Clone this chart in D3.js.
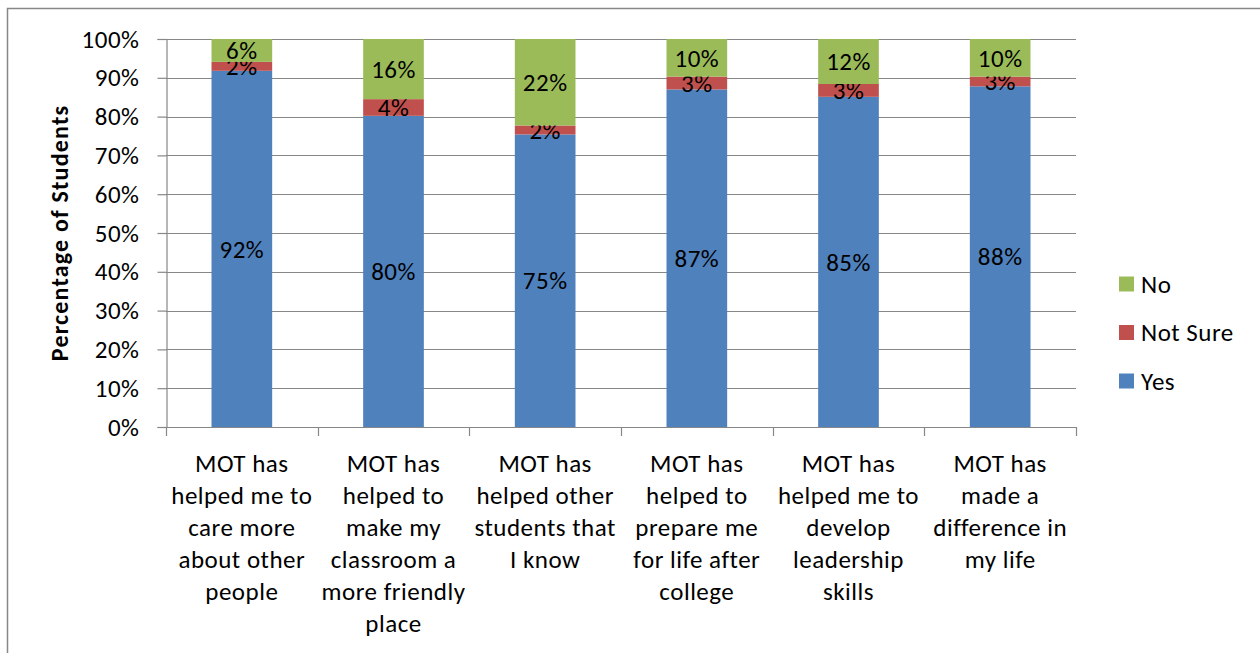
<!DOCTYPE html>
<html>
<head>
<meta charset="utf-8">
<script src="https://cdn.jsdelivr.net/npm/d3@7"></script>
<style>
  html, body { margin: 0; padding: 0; background: #fff; }
  svg { display: block; font-family: Carlito, Calibri, Lato, sans-serif; }
  .lbl { letter-spacing: 0.5px; }
</style>
</head>
<body>
<svg id="chart" width="1260" height="653"></svg>
<script>
// Survey statements (line breaks mark how each label wraps)
const categories = [
  "MOT has\nhelped me to\ncare more\nabout other\npeople",
  "MOT has\nhelped to\nmake my\nclassroom a\nmore friendly\nplace",
  "MOT has\nhelped other\nstudents that\nI know",
  "MOT has\nhelped to\nprepare me\nfor life after\ncollege",
  "MOT has\nhelped me to\ndevelop\nleadership\nskills",
  "MOT has\nmade a\ndifference in\nmy life"
];

// Share of students per answer, in percent
const yesValues     = [91.8, 80.2, 75.4, 87.0, 85.1, 87.8];
const notSureValues = [2.3, 4.3, 2.3, 3.3, 3.3, 2.5];
const noValues      = [5.9, 15.5, 22.3, 9.7, 11.6, 9.7];

const seriesNames = ["Yes", "Not Sure", "No"];
const seriesColors = ["#4F81BD", "#C0504D", "#9BBB59"];
const yTicks = [0, 10, 20, 30, 40, 50, 60, 70, 80, 90, 100];

const svg = d3.select("#chart");
const gridColor = "#878787";
const fontSize = 25;

// Outer frame
svg.append("path")
  .attr("d", "M7.5,653 L7.5,8.5 L1260,8.5")
  .attr("fill", "none")
  .attr("stroke", gridColor)
  .attr("stroke-width", 1.5);

const plot = { left: 166, right: 1076, top: 39, bottom: 427 };

const x = d3.scaleBand()
  .domain(d3.range(categories.length))
  .range([plot.left, plot.right])
  .paddingInner(0.6)
  .paddingOuter(0.3);

const y = d3.scaleLinear().domain([0, 100]).range([plot.bottom, plot.top]);

// Horizontal gridlines
svg.append("g")
  .selectAll("line")
  .data(yTicks.filter(t => t > 0))
  .join("line")
  .attr("x1", plot.left).attr("x2", plot.right)
  .attr("y1", d => Math.round(y(d)) + 0.5).attr("y2", d => Math.round(y(d)) + 0.5)
  .attr("stroke", gridColor).attr("stroke-width", 1.2);

// Y axis
const yAxis = svg.append("g")
  .attr("transform", `translate(${plot.left + 0.5},0)`)
  .call(d3.axisLeft(y).tickValues(yTicks).tickFormat(d => d + "%").tickSize(9).tickPadding(18));
yAxis.select(".domain").attr("stroke", gridColor).attr("stroke-width", 1.2);
yAxis.selectAll(".tick line").attr("stroke", gridColor).attr("stroke-width", 1.2);
yAxis.selectAll(".tick text")
  .attr("class", "lbl")
  .attr("font-size", fontSize).attr("fill", "#000")
  .attr("font-family", "Carlito, Calibri, Lato, sans-serif");

// Stacked bars
const rows = categories.map((c, i) => ({
  idx: i, "Yes": yesValues[i], "Not Sure": notSureValues[i], "No": noValues[i]
}));
const stacked = d3.stack().keys(seriesNames)(rows);

const layers = svg.append("g")
  .selectAll("g")
  .data(stacked)
  .join("g")
  .attr("fill", (d, i) => seriesColors[i]);

layers.selectAll("rect")
  .data(d => d)
  .join("rect")
  .attr("x", d => x(d.data.idx))
  .attr("width", x.bandwidth())
  .attr("y", d => y(d[1]))
  .attr("height", d => y(d[0]) - y(d[1]));

// Data labels centered in each segment
layers.selectAll("text")
  .data(d => d.map(v => ({ v, key: d.key })))
  .join("text")
  .attr("class", "lbl")
  .attr("x", d => x(d.v.data.idx) + x.bandwidth() / 2)
  .attr("y", d => y((d.v[0] + d.v[1]) / 2))
  .attr("dy", "0.35em")
  .attr("text-anchor", "middle")
  .attr("font-size", fontSize)
  .attr("fill", "#000")
  .text(d => Math.round(d.v.data[d.key]) + "%");

// X axis baseline and category ticks
const bounds = d3.range(categories.length + 1).map(i => plot.left + i * (plot.right - plot.left) / categories.length);
svg.append("line")
  .attr("x1", plot.left).attr("x2", plot.right)
  .attr("y1", plot.bottom + 0.5).attr("y2", plot.bottom + 0.5)
  .attr("stroke", gridColor).attr("stroke-width", 1.2);
svg.append("g")
  .selectAll("line")
  .data(bounds)
  .join("line")
  .attr("x1", d => Math.round(d) + 0.5).attr("x2", d => Math.round(d) + 0.5)
  .attr("y1", plot.bottom).attr("y2", plot.bottom + 9)
  .attr("stroke", gridColor).attr("stroke-width", 1.2);

// Category labels
const catText = svg.append("g")
  .selectAll("text")
  .data(categories)
  .join("text")
  .attr("class", "lbl")
  .attr("text-anchor", "middle")
  .attr("font-size", fontSize)
  .attr("fill", "#000");
catText.each(function (d, i) {
  const cx = x(i) + x.bandwidth() / 2;
  d3.select(this).selectAll("tspan")
    .data(d.split("\n"))
    .join("tspan")
    .attr("x", cx)
    .attr("y", (t, j) => 472 + j * 32)
    .text(t => t);
});

// Y axis title
svg.append("text")
  .attr("transform", `translate(68,${(plot.top + plot.bottom) / 2}) rotate(-90)`)
  .attr("text-anchor", "middle")
  .attr("font-size", 24)
  .attr("font-weight", "bold")
  .attr("letter-spacing", "1.2px")
  .attr("fill", "#000")
  .text("Percentage of Students");

// Legend (reverse stacking order, top to bottom)
const legendItems = seriesNames.map((n, i) => ({ name: n, color: seriesColors[i] })).reverse();
const legend = svg.append("g")
  .selectAll("g")
  .data(legendItems)
  .join("g")
  .attr("transform", (d, i) => `translate(1119,${284 + i * 48.5})`);
legend.append("rect")
  .attr("x", 0).attr("y", -7.5)
  .attr("width", 15).attr("height", 15)
  .attr("fill", d => d.color);
legend.append("text")
  .attr("class", "lbl")
  .attr("x", 22).attr("dy", "0.35em")
  .attr("font-size", fontSize)
  .attr("fill", "#000")
  .text(d => d.name);
</script>
</body>
</html>
